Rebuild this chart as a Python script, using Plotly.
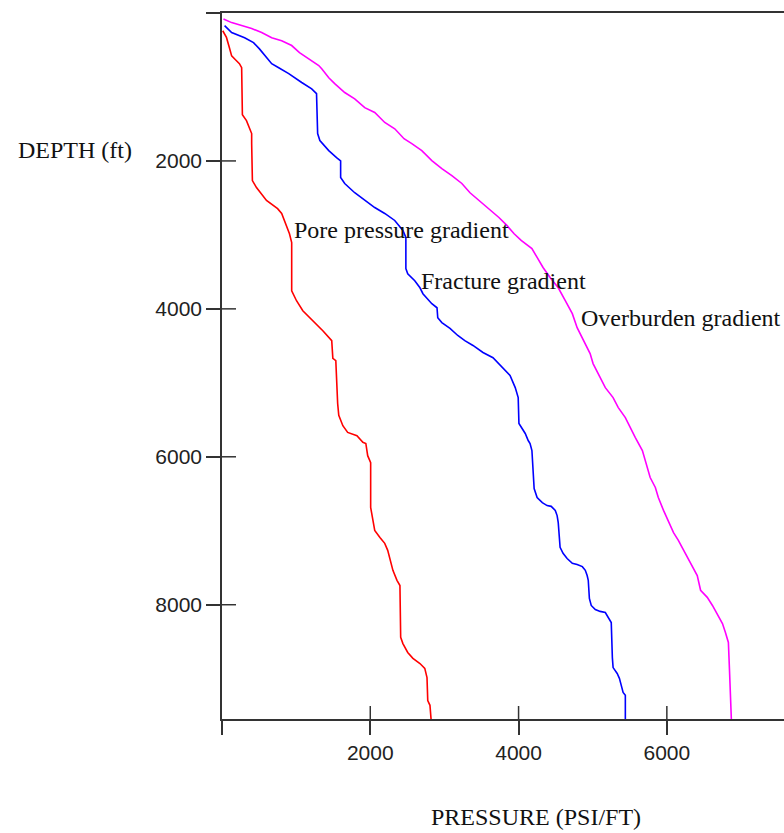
import plotly.graph_objects as go

# ---------------- data ----------------
pore_pressure = [10, 60, 100, 130, 195, 235, 265, 275, 330, 370, 400, 400, 410, 465, 600, 750, 805, 910, 940, 940,
                 1005, 1090, 1225, 1360, 1480, 1495, 1535, 1545, 1560, 1575, 1630, 1695, 1820, 1900, 1940, 1965,
                 2005, 2005, 2035, 2060, 2130, 2195, 2235, 2265, 2305, 2360, 2400, 2410, 2440, 2505, 2575, 2670,
                 2735, 2765, 2775, 2805, 2820]
pore_depth = [240, 330, 470, 580, 645, 685, 740, 1375, 1455, 1550, 1630, 1765, 2265, 2360, 2535, 2645, 2710, 2985,
              3105, 3755, 3890, 4025, 4160, 4295, 4430, 4670, 4700, 5075, 5280, 5440, 5580, 5670, 5715, 5805, 5820,
              5985, 6080, 6685, 6835, 6995, 7090, 7170, 7265, 7400, 7535, 7670, 7740, 8440, 8525, 8645, 8725, 8795,
              8860, 8985, 9295, 9360, 9550]

fracture_pressure = [35, 130, 305, 425, 505, 575, 670, 765, 900, 1075, 1210, 1275, 1290, 1320, 1440, 1545, 1600, 1600,
                     1655, 1790, 1925, 2060, 2195, 2330, 2440, 2480, 2480, 2505, 2600, 2670, 2710, 2765, 2830, 2900,
                     2910, 2965, 3075, 3180, 3275, 3385, 3520, 3655, 3790, 3885, 3955, 3995, 4005, 4045, 4090, 4130,
                     4155, 4180, 4195, 4210, 4250, 4320, 4385, 4440, 4495, 4520, 4535, 4545, 4560, 4600, 4655, 4725,
                     4790, 4860, 4900, 4925, 4940, 4955, 4980, 5035, 5100, 5170, 5210, 5250, 5265, 5275, 5330, 5360,
                     5385, 5410, 5440, 5440]
fracture_depth = [170, 265, 335, 400, 485, 575, 685, 740, 820, 940, 1025, 1090, 1630, 1725, 1860, 1955, 2000, 2225,
                  2305, 2430, 2535, 2630, 2710, 2805, 2940, 3035, 3455, 3525, 3620, 3715, 3795, 3860, 3930, 3985,
                  4120, 4185, 4265, 4360, 4430, 4495, 4590, 4660, 4795, 4900, 5065, 5200, 5550, 5620, 5685, 5780,
                  5820, 5915, 6160, 6430, 6550, 6620, 6660, 6670, 6725, 6795, 6890, 7065, 7225, 7305, 7375, 7440,
                  7455, 7485, 7535, 7605, 7670, 7915, 8010, 8065, 8090, 8105, 8170, 8240, 8715, 8850, 8930, 8995,
                  9090, 9185, 9225, 9550]

overburden_pressure = [20, 130, 265, 400, 535, 670, 805, 940, 1045, 1170, 1305, 1345, 1440, 1520, 1655, 1790, 1925,
                       2060, 2195, 2330, 2455, 2560, 2695, 2830, 2965, 3100, 3235, 3345, 3465, 3600, 3735, 3845,
                       3940, 4035, 4180, 4250, 4330, 4425, 4535, 4630, 4725, 4790, 4860, 4965, 5005, 5100, 5170,
                       5275, 5345, 5440, 5505, 5575, 5670, 5710, 5775, 5845, 5885, 5955, 6020, 6090, 6155, 6225,
                       6320, 6410, 6455, 6545, 6615, 6680, 6750, 6790, 6830, 6845, 6860, 6870]
overburden_depth = [80, 130, 170, 210, 265, 335, 375, 440, 535, 620, 710, 755, 875, 955, 1075, 1160, 1280, 1345,
                    1480, 1565, 1700, 1765, 1860, 1995, 2105, 2200, 2305, 2430, 2535, 2645, 2765, 2875, 2985, 3075,
                    3185, 3305, 3440, 3575, 3715, 3890, 4065, 4255, 4390, 4605, 4740, 4930, 5065, 5200, 5335, 5470,
                    5605, 5740, 5915, 6050, 6280, 6415, 6550, 6725, 6860, 7025, 7130, 7265, 7440, 7605, 7805, 7900,
                    8010, 8120, 8255, 8375, 8510, 8890, 9295, 9550]

series_names = ["Pore pressure gradient", "Fracture gradient", "Overburden gradient"]
x_tick_values = [0, 2000, 4000, 6000]
x_tick_labels = ["", "2000", "4000", "6000"]
y_tick_values = [0, 2000, 4000, 6000, 8000]
y_tick_labels = ["", "2000", "4000", "6000", "8000"]
x_title = "PRESSURE (PSI/FT)"
y_title = "DEPTH (ft)"

X_RANGE = [0, 7580]
Y_RANGE = [9545, 0]

AX_COLOR = "#333333"
TICK_FONT = dict(family="Liberation Sans, Arial, sans-serif", size=21, color="#222222")
SERIF = dict(family="Liberation Serif, Times New Roman, serif", size=24, color="#111111")

fig = go.Figure()
for xs, ys, col in [(pore_pressure, pore_depth, "#ff0000"),
                    (fracture_pressure, fracture_depth, "#0000ff"),
                    (overburden_pressure, overburden_depth, "#ff00ff")]:
    fig.add_trace(go.Scatter(x=xs, y=ys, mode="lines", line=dict(color=col, width=1.6),
                             showlegend=False, hoverinfo="skip"))

# helper trace so the top (mirror-line) axis is drawn
fig.add_trace(go.Scatter(x=[None], y=[None], xaxis="x3", yaxis="y", showlegend=False, hoverinfo="skip"))

common_x = dict(range=X_RANGE, showgrid=False, zeroline=False, fixedrange=True)
common_y = dict(range=Y_RANGE, showgrid=False, zeroline=False, fixedrange=True)

fig.update_layout(
    width=784, height=833,
    margin=dict(l=222, r=0, t=13, b=114),
    paper_bgcolor="white", plot_bgcolor="white",
    showlegend=False,
    xaxis=dict(**common_x, showline=True, linecolor=AX_COLOR, linewidth=1.5,
               ticks="outside", ticklen=14, tickwidth=1.5, tickcolor=AX_COLOR,
               tickmode="array", tickvals=x_tick_values, ticktext=x_tick_labels,
               tickfont=TICK_FONT),
    xaxis3=dict(**common_x, overlaying="x", anchor="y", side="top", showline=True,
                linecolor=AX_COLOR, linewidth=1.5, ticks="", showticklabels=False),
    yaxis=dict(**common_y, showline=True, linecolor=AX_COLOR, linewidth=1.5,
               ticks="outside", ticklen=14, tickwidth=1.5, tickcolor=AX_COLOR,
               tickmode="array", tickvals=y_tick_values, ticktext=y_tick_labels,
               tickfont=TICK_FONT),
)

# inner halves of the crossing tick marks (ticks cross the axis lines)
for tv in x_tick_values[1:]:
    fig.add_shape(type="line", xref="x", yref="paper", ysizemode="pixel", yanchor=0,
                  x0=tv, x1=tv, y0=0, y1=13, line=dict(color=AX_COLOR, width=1.5))
for tv in y_tick_values[1:]:
    fig.add_shape(type="line", xref="paper", yref="y", xsizemode="pixel", xanchor=0,
                  x0=0, x1=14, y0=tv, y1=tv, line=dict(color=AX_COLOR, width=1.5))

# curve labels (data coordinates)
label_pos = [(950, 2930), (2660, 3630), (4810, 4130)]
for name, (lx, ly) in zip(series_names, label_pos):
    fig.add_annotation(x=lx, y=ly, xref="x", yref="y", text=name, showarrow=False,
                       xanchor="left", yanchor="middle", font=SERIF)

# axis titles
fig.add_annotation(x=-0.367, y=0.806, xref="paper", yref="paper", text=y_title, showarrow=False,
                   xanchor="left", yanchor="middle", font=SERIF)
fig.add_annotation(x=0.559, y=-0.139, xref="paper", yref="paper", text=x_title, showarrow=False,
                   xanchor="center", yanchor="middle", font=SERIF)

fig.write_html("out.html")
